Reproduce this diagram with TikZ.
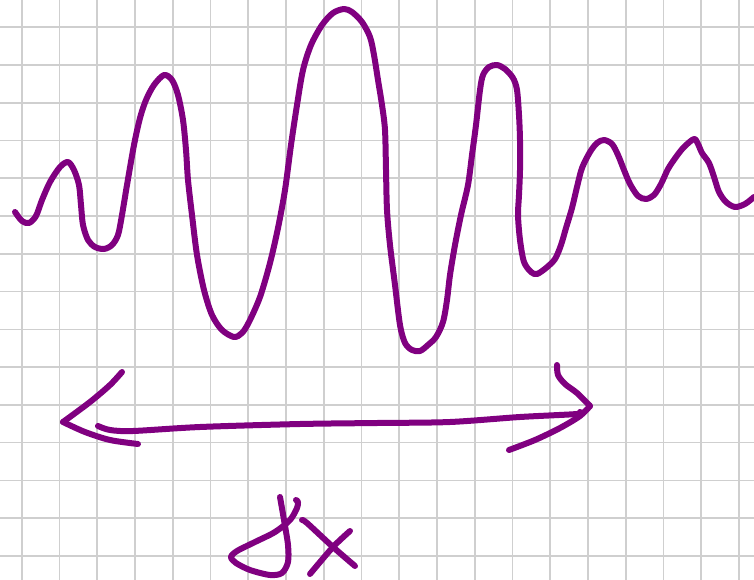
\documentclass[tikz,border=0pt]{standalone}
\definecolor{ink}{HTML}{800080}
\definecolor{gridgray}{HTML}{CFCFCF}
\tikzset{pen/.style={draw=ink,line width=6pt,line cap=round,line join=round}}
\begin{document}
\begin{tikzpicture}[x=1pt,y=-1pt]
\fill[white] (0,0) rectangle (754,580);
\useasboundingbox (0,0) rectangle (754,580);
\foreach \i in {0,...,19} {
  \draw[gridgray,line width=1.6pt] ({21.7+37.75*\i},0) -- ({21.7+37.75*\i},580);
}
\foreach \j in {0,...,15} {
  \draw[gridgray,line width=1.6pt] (0,{27.3+37.75*\j}) -- (754,{27.3+37.75*\j});
}
% wave packet
\draw[pen] plot[smooth,tension=0.5] coordinates {
(15,212) (22,221) (29,223) (36,216) (42,200) (50,182) (60,167) (68,162) (74,170) (79,185) (81,205) (83,225) (88,240) (95,247) (104,249) (112,245) (118,235) (122,215) (127,185) (134,145) (140,118) (146,100) (154,85) (164,75) (172,80) (178,95) (183,120) (186,150) (188,180) (192,215) (197,255) (204,290) (212,315) (222,330) (234,337) (242,333) (249,322) (260,297) (270,263) (278,228) (285,190) (291,145) (297,105) (303,70) (311,45) (322,25) (333,13) (344,9) (352,12) (362,22) (370,37) (374,55) (378,80) (382,105) (385,130) (386,170) (387,210) (390,245) (395,285) (400,325) (405,343) (412,350) (420,351) (428,345) (436,337) (443,322) (447,300) (450,275) (455,245) (461,215) (468,185) (472,155) (476,125) (480,90) (483,75) (489,67) (497,65) (505,69) (513,78) (517,90) (519,115) (520,140) (520,170) (519,195) (518,215) (520,240) (524,262) (531,272) (537,274) (546,268) (555,259) (561,245) (566,228) (572,208) (577,187) (582,168) (590,152) (597,143) (604,140) (612,144) (618,155) (624,170) (630,184) (638,196) (646,199) (654,195) (661,184) (668,169) (676,157) (684,147) (694,139) (698,144) (702,153) (709,163) (714,177) (719,192) (726,202) (735,207) (745,204) (754,197)};
% arrow shaft
\draw[pen] plot[smooth,tension=0.5] coordinates {
(98,426) (110,430) (133,431) (200,427) (300,424) (377,423) (450,422) (520,417) (577,414) (580,412)};
% left head
\draw[pen] plot[smooth,tension=0.5] coordinates {
(122,372) (110,385) (90,402) (63,422)};
\draw[pen] plot[smooth,tension=0.5] coordinates {
(63,422) (85,432) (110,440) (138,444)};
% right head
\draw[pen] plot[smooth,tension=0.5] coordinates {
(557,365) (558,375) (565,384) (577,393) (590,406)};
\draw[pen] plot[smooth,tension=0.5] coordinates {
(590,406) (580,416) (560,428) (535,440) (509,450)};
% delta
\draw[pen] plot[smooth,tension=0.5] coordinates {
(280,497) (284,520) (288,545) (288,562) (282,573) (270,575) (250,570) (236,563) (231,557) (237,551) (255,542) (275,532) (290,520) (297,508) (298,502) (296,500)};
% x
\draw[pen] plot[smooth,tension=0.5] coordinates {
(302,520) (307,523) (333,547) (355,566)};
\draw[pen] plot[smooth,tension=0.5] coordinates {
(350,531) (333,547) (310,574)};
\end{tikzpicture}
\end{document}
